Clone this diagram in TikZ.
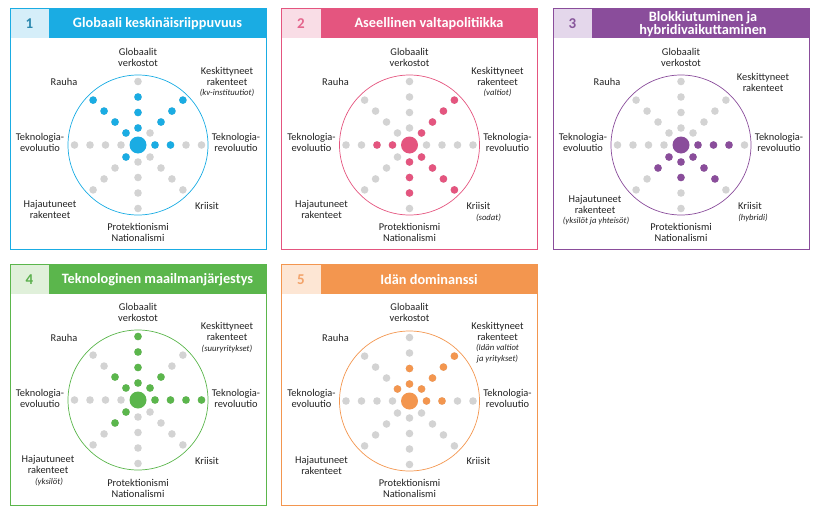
\documentclass[tikz,border=0pt]{standalone}
\usepackage{fontspec}
\setmainfont{Carlito}
\definecolor{blu}{HTML}{1AACE3}
\definecolor{blulight}{HTML}{D5EEF9}
\definecolor{bludark}{HTML}{2B88AE}
\definecolor{pnk}{HTML}{E4557F}
\definecolor{pnklight}{HTML}{F9DDE6}
\definecolor{pnkdark}{HTML}{E4668D}
\definecolor{prp}{HTML}{8A4D9B}
\definecolor{prplight}{HTML}{E4D7EB}
\definecolor{prpdark}{HTML}{87569B}
\definecolor{grn}{HTML}{5BB64C}
\definecolor{grnlight}{HTML}{E0F0DA}
\definecolor{grndark}{HTML}{5AAF4C}
\definecolor{org}{HTML}{F3964F}
\definecolor{orglight}{HTML}{FDE6D4}
\definecolor{orgdark}{HTML}{F3A36A}
\definecolor{dotgray}{HTML}{D3D3D3}
\definecolor{txt}{HTML}{222222}
\usetikzlibrary{positioning}

\begin{document}
\begin{tikzpicture}[x=1pt, y=-1pt,
    lbl/.style={font=\fontsize{10.4}{11}\selectfont, align=center, text=txt, inner sep=0pt},
    sublbl/.style={font=\fontsize{8.7}{10.5}\selectfont\itshape, align=center, text=txt, inner sep=0pt},
    titletxt/.style={font=\fontsize{14.3}{13}\selectfont\bfseries, align=center, text=white, inner sep=0pt},
    numtxt/.style={font=\fontsize{15}{15}\selectfont\bfseries, inner sep=0pt},
    ring/.style={draw=#1, line width=0.7pt},
    panelframe/.style={draw=#1, line width=0.8pt}]
  \useasboundingbox (0,0) rectangle (822,514);

  % 1 - Globaali keskinaisriippuvuus
  \begin{scope}[shift={(10,8)}, name prefix=p1-]
    \fill[blulight] (0,0) rectangle (39,30);
    \fill[blu] (39,0) rectangle (256,30);
    \draw[panelframe=blu] (0,0) rectangle (256,241);
    \node (num) [numtxt, text=bludark] at (19.5,15.5) {1};
    \node (title) [titletxt] at (147.5,15.5) {Globaali keskinäisriippuvuus};
    \draw[ring=blu] (128,137) circle (70);
    \node (glob) [lbl] at (128,49) {Globaalit\\verkostot};
    \node (kesk) [lbl] at (217,68.5) {Keskittyneet\\rakenteet};
    \node (keskx) [sublbl] at (217,85) {(kv-instituutiot)};
    \node (rauha) [lbl] at (54,74) {Rauha};
    \node (tevo) [lbl] at (30,134.5) {Teknologia-\\evoluutio};
    \node (trev) [lbl] at (226,134.5) {Teknologia-\\revoluutio};
    \node (haja) [lbl] at (40,201) {Hajautuneet\\rakenteet};
    \node (kriisit) [lbl] at (197,198) {Kriisit};
    \node (prot) [lbl] at (128,224) {Protektionismi\\Nationalismi};
    \begin{scope}[shift={(128,137)}]
      \foreach \a in {0,45,...,315}
        \foreach \k in {1,...,4}
          \fill[dotgray] ({\a}:{1.5+15.5*\k}) circle (3.8);
      \foreach \a/\k in {-90/1,-90/2,-90/3,-45/2,-45/3,-45/4,0/1,0/2,135/1,225/1,225/2,225/3,225/4}
        \fill[blu] ({\a}:{1.5+15.5*\k}) circle (3.8);
      \fill[blu] (0,0) circle (8.5);
    \end{scope}
  \end{scope}

  % 2 - Aseellinen valtapolitiikka
  \begin{scope}[shift={(281.5,8)}, name prefix=p2-]
    \fill[pnklight] (0,0) rectangle (39,30);
    \fill[pnk] (39,0) rectangle (256,30);
    \draw[panelframe=pnk] (0,0) rectangle (256,241);
    \node (num) [numtxt, text=pnkdark] at (19.5,15.5) {2};
    \node (title) [titletxt] at (147.5,15.5) {Aseellinen valtapolitiikka};
    \draw[ring=pnk] (128,137) circle (70);
    \node (glob) [lbl] at (128,49) {Globaalit\\verkostot};
    \node (kesk) [lbl] at (216,68.5) {Keskittyneet\\rakenteet};
    \node (keskx) [sublbl] at (216,85) {(valtiot)};
    \node (rauha) [lbl] at (54,74) {Rauha};
    \node (tevo) [lbl] at (30,134.5) {Teknologia-\\evoluutio};
    \node (trev) [lbl] at (226,134.5) {Teknologia-\\revoluutio};
    \node (haja) [lbl] at (40,201) {Hajautuneet\\rakenteet};
    \node (kriisit) [lbl] at (197,197.5) {Kriisit};
    \node (kriisitx) [sublbl] at (207,209.5) {(sodat)};
    \node (prot) [lbl] at (128,224) {Protektionismi\\Nationalismi};
    \begin{scope}[shift={(128,137)}]
      \foreach \a in {0,45,...,315}
        \foreach \k in {1,...,4}
          \fill[dotgray] ({\a}:{1.5+15.5*\k}) circle (3.8);
      \foreach \a/\k in {-45/1,-45/2,-45/3,-45/4,45/1,45/2,45/3,45/4,90/1,90/2,90/3,180/1,180/2}
        \fill[pnk] ({\a}:{1.5+15.5*\k}) circle (3.8);
      \fill[pnk] (0,0) circle (8.5);
    \end{scope}
  \end{scope}

  % 3 - Blokkiutuminen ja hybridivaikuttaminen
  \begin{scope}[shift={(553,8)}, name prefix=p3-]
    \fill[prplight] (0,0) rectangle (39,30);
    \fill[prp] (39,0) rectangle (256,30);
    \draw[panelframe=prp] (0,0) rectangle (256,241);
    \node (num) [numtxt, text=prpdark] at (19.5,15.5) {3};
    \node (title) [titletxt] at (150,16) {Blokkiutuminen ja\\hybridivaikuttaminen};
    \draw[ring=prp] (128,137) circle (70);
    \node (glob) [lbl] at (128,49) {Globaalit\\verkostot};
    \node (kesk) [lbl] at (210,74.5) {Keskittyneet\\rakenteet};
    \node (rauha) [lbl] at (54,74) {Rauha};
    \node (tevo) [lbl] at (30,134.5) {Teknologia-\\evoluutio};
    \node (trev) [lbl] at (226,134.5) {Teknologia-\\revoluutio};
    \node (haja) [lbl] at (42,196.5) {Hajautuneet\\rakenteet};
    \node (hajax) [sublbl] at (43,213.5) {(yksilöt ja yhteisöt)};
    \node (kriisit) [lbl] at (197,197.5) {Kriisit};
    \node (kriisitx) [sublbl] at (200,210) {(hybridi)};
    \node (prot) [lbl] at (128,224) {Protektionismi\\Nationalismi};
    \begin{scope}[shift={(128,137)}]
      \foreach \a in {0,45,...,315}
        \foreach \k in {1,...,4}
          \fill[dotgray] ({\a}:{1.5+15.5*\k}) circle (3.8);
      \foreach \a/\k in {0/1,0/2,0/3,45/1,45/2,45/3,90/1,90/2,135/1,135/2}
        \fill[prp] ({\a}:{1.5+15.5*\k}) circle (3.8);
      \fill[prp] (0,0) circle (8.5);
    \end{scope}
  \end{scope}

  % 4 - Teknologinen maailmanjarjestys
  \begin{scope}[shift={(10,264)}, name prefix=p4-]
    \fill[grnlight] (0,0) rectangle (39,30);
    \fill[grn] (39,0) rectangle (256,30);
    \draw[panelframe=grn] (0,0) rectangle (256,241);
    \node (num) [numtxt, text=grndark] at (19.5,15.5) {4};
    \node (title) [titletxt] at (147.5,15.5) {Teknologinen maailmanjärjestys};
    \draw[ring=grn] (128,136) circle (70);
    \node (glob) [lbl] at (128,48) {Globaalit\\verkostot};
    \node (kesk) [lbl] at (217,67.5) {Keskittyneet\\rakenteet};
    \node (keskx) [sublbl] at (217,85) {(suuryritykset)};
    \node (rauha) [lbl] at (54,74) {Rauha};
    \node (tevo) [lbl] at (30,134.5) {Teknologia-\\evoluutio};
    \node (trev) [lbl] at (226,134.5) {Teknologia-\\revoluutio};
    \node (haja) [lbl] at (38,200.5) {Hajautuneet\\rakenteet};
    \node (hajax) [sublbl] at (39,218) {(yksilöt)};
    \node (kriisit) [lbl] at (197,197) {Kriisit};
    \node (prot) [lbl] at (128,224) {Protektionismi\\Nationalismi};
    \begin{scope}[shift={(128,136)}]
      \foreach \a in {0,45,...,315}
        \foreach \k in {1,...,4}
          \fill[dotgray] ({\a}:{1.5+15.5*\k}) circle (3.8);
      \foreach \a/\k in {-90/1,-90/2,-90/3,-90/4,-45/1,-45/2,0/1,0/2,0/3,0/4,135/1,135/2,225/1,225/2}
        \fill[grn] ({\a}:{1.5+15.5*\k}) circle (3.8);
      \fill[grn] (0,0) circle (8.5);
    \end{scope}
  \end{scope}

  % 5 - Idan dominanssi
  \begin{scope}[shift={(281.5,264)}, name prefix=p5-]
    \fill[orglight] (0,0) rectangle (39,30);
    \fill[org] (39,0) rectangle (256,30);
    \draw[panelframe=org] (0,0) rectangle (256,241);
    \node (num) [numtxt, text=orgdark] at (19.5,15.5) {5};
    \node (title) [titletxt] at (147.5,15.5) {Idän dominanssi};
    \draw[ring=org] (128,137) circle (70);
    \node (glob) [lbl] at (128,48) {Globaalit\\verkostot};
    \node (kesk) [lbl] at (216,67) {Keskittyneet\\rakenteet};
    \node (keskx) [sublbl] at (216,89.5) {(Idän valtiot\\ja yritykset)};
    \node (rauha) [lbl] at (54,74) {Rauha};
    \node (tevo) [lbl] at (30,134.5) {Teknologia-\\evoluutio};
    \node (trev) [lbl] at (226,134.5) {Teknologia-\\revoluutio};
    \node (haja) [lbl] at (40,201) {Hajautuneet\\rakenteet};
    \node (kriisit) [lbl] at (197,197) {Kriisit};
    \node (prot) [lbl] at (128,224) {Protektionismi\\Nationalismi};
    \begin{scope}[shift={(128,137)}]
      \foreach \a in {0,45,...,315}
        \foreach \k in {1,...,4}
          \fill[dotgray] ({\a}:{1.5+15.5*\k}) circle (3.8);
      \foreach \a/\k in {-90/1,-90/2,-45/1,-45/2,-45/3,-45/4,0/1,0/2,225/1}
        \fill[org] ({\a}:{1.5+15.5*\k}) circle (3.8);
      \fill[org] (0,0) circle (8.5);
    \end{scope}
  \end{scope}
\end{tikzpicture}
\end{document}
